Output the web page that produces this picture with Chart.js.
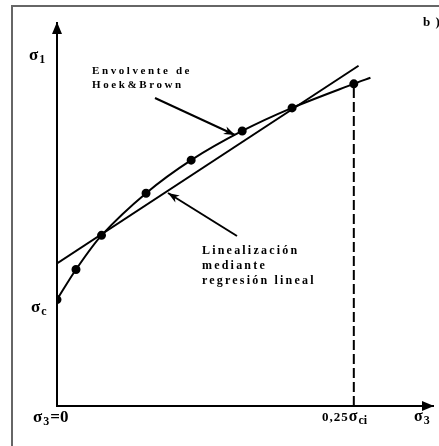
<!DOCTYPE html>
<html>
<head>
<meta charset="utf-8">
<script src="https://cdn.jsdelivr.net/npm/chart.js@4/dist/chart.umd.min.js"></script>
<style>
  html, body { margin: 0; padding: 0; background: #fff; }
  #wrap { width: 439px; height: 446px; }
</style>
</head>
<body>
<div id="wrap"><canvas id="chart"></canvas></div>
<script>
// sigma3 (fraction of sigma_ci) and sigma1
const hbX = [0, 0.016, 0.0375, 0.075, 0.113, 0.156, 0.198, 0.25, 0.264];
const hbY = [1.0, 1.283, 1.604, 2.0, 2.311, 2.585, 2.802, 3.028, 3.085];
const hbDot = [3.5, 3.5, 3.5, 3.5, 3.5, 3.5, 3.5, 3.5, 0];   // last point only extends the curve
const regX = [0, 0.254];
const regY = [1.34, 3.198];
const limitX = [0.25, 0.25];
const limitY = [0, 3.028];

const xMax = 0.3167;
const yMax = 3.6;

function toPts(xs, ys) {
    return xs.map((x, i) => ({ x: x, y: ys[i] }));
}

// ------------------------------
// Frame, axis arrows and labels
// ------------------------------
const deco = {
    id: 'deco',
    afterDraw(chart) {
        const ctx = chart.ctx;
        const a = chart.chartArea;
        ctx.save();

        // outer frame
        ctx.strokeStyle = '#666';
        ctx.lineWidth = 2;
        ctx.strokeRect(12, 6, 440, 460);

        // axis arrowheads
        ctx.fillStyle = '#000';
        ctx.beginPath();
        ctx.moveTo(a.left, a.top - 1);
        ctx.lineTo(a.left - 5, a.top + 11);
        ctx.lineTo(a.left + 5, a.top + 11);
        ctx.closePath();
        ctx.fill();
        ctx.beginPath();
        ctx.moveTo(a.right + 1, a.bottom);
        ctx.lineTo(a.right - 11, a.bottom - 5);
        ctx.lineTo(a.right - 11, a.bottom + 5);
        ctx.closePath();
        ctx.fill();

        // pointer arrows
        function arrow(x1, y1, x2, y2) {
            ctx.strokeStyle = '#000';
            ctx.lineWidth = 2;
            ctx.beginPath();
            ctx.moveTo(x1, y1);
            ctx.lineTo(x2, y2);
            ctx.stroke();
            const ang = Math.atan2(y2 - y1, x2 - x1);
            ctx.beginPath();
            ctx.moveTo(x2, y2);
            ctx.lineTo(x2 - 12 * Math.cos(ang - 0.35), y2 - 12 * Math.sin(ang - 0.35));
            ctx.lineTo(x2 - 8 * Math.cos(ang), y2 - 8 * Math.sin(ang));
            ctx.lineTo(x2 - 12 * Math.cos(ang + 0.35), y2 - 12 * Math.sin(ang + 0.35));
            ctx.closePath();
            ctx.fill();
        }
        arrow(155, 98, 235, 135);
        arrow(237, 236, 168, 193);

        // sigma labels with subscripts, returns x after the label
        function sig(x, y, sub, big) {
            ctx.letterSpacing = '0px';
            ctx.textAlign = 'left';
            ctx.textBaseline = 'alphabetic';
            ctx.font = 'bold ' + big + 'px "Liberation Serif", serif';
            ctx.fillText('σ', x, y);
            const w = ctx.measureText('σ').width;
            ctx.font = 'bold ' + Math.round(big * 0.72) + 'px "Liberation Serif", serif';
            ctx.fillText(sub, x + w + 1, y + 3);
            return x + w + 1 + ctx.measureText(sub).width;
        }
        sig(29, 60, '1', 17);
        sig(31, 312, 'c', 17);
        let nx = sig(33, 422, '3', 17);
        ctx.font = 'bold 17px "Liberation Serif", serif';
        ctx.fillText('=0', nx + 1, 422);

        ctx.font = 'bold 13px "Liberation Serif", serif';
        ctx.letterSpacing = '1px';
        ctx.fillText('0,25', 322, 421);
        nx = 322 + ctx.measureText('0,25').width;
        sig(nx, 421, 'ci', 16);
        sig(414, 421, '3', 16);

        ctx.font = 'bold 13px "Liberation Serif", serif';
        ctx.letterSpacing = '1px';
        ctx.fillText('b )', 423, 26);

        // annotation texts
        ctx.font = 'bold 11px "Liberation Serif", serif';
        ctx.letterSpacing = '2.6px';
        ctx.textBaseline = 'middle';
        ctx.fillText('Envolvente de', 92, 71);
        ctx.fillText('Hoek&Brown', 92, 85);
        ctx.font = 'bold 12px "Liberation Serif", serif';
        ctx.letterSpacing = '2.2px';
        ctx.fillText('Linealización', 202, 251);
        ctx.fillText('mediante', 202, 266);
        ctx.fillText('regresión lineal', 202, 281);
        ctx.restore();
    }
};

new Chart(document.getElementById('chart'), {
    type: 'scatter',
    data: {
        datasets: [
            {
                label: 'Envolvente de Hoek&Brown',
                data: toPts(hbX, hbY),
                showLine: true,
                borderColor: '#000',
                backgroundColor: '#000',
                borderWidth: 2,
                pointRadius: hbDot,
                tension: 0.3
            },
            {
                label: 'Linealización mediante regresión lineal',
                data: toPts(regX, regY),
                showLine: true,
                borderColor: '#000',
                borderWidth: 2,
                pointRadius: 0
            },
            {
                label: '0,25σci',
                data: toPts(limitX, limitY),
                showLine: true,
                borderColor: '#000',
                borderWidth: 2,
                borderDash: [10, 4],
                pointRadius: 0
            }
        ]
    },
    options: {
        responsive: true,
        maintainAspectRatio: false,
        animation: false,
        events: [],
        layout: { padding: { left: 57, top: 23, right: 1, bottom: 40 } },
        plugins: {
            legend: { display: false },
            tooltip: { enabled: false }
        },
        scales: {
            x: {
                type: 'linear',
                min: 0,
                max: xMax,
                ticks: { display: false },
                grid: { display: false, drawTicks: false },
                border: { display: true, color: '#000', width: 2 }
            },
            y: {
                type: 'linear',
                min: 0,
                max: yMax,
                ticks: { display: false },
                grid: { display: false, drawTicks: false },
                border: { display: true, color: '#000', width: 2 }
            }
        }
    },
    plugins: [deco]
});
</script>
</body>
</html>
